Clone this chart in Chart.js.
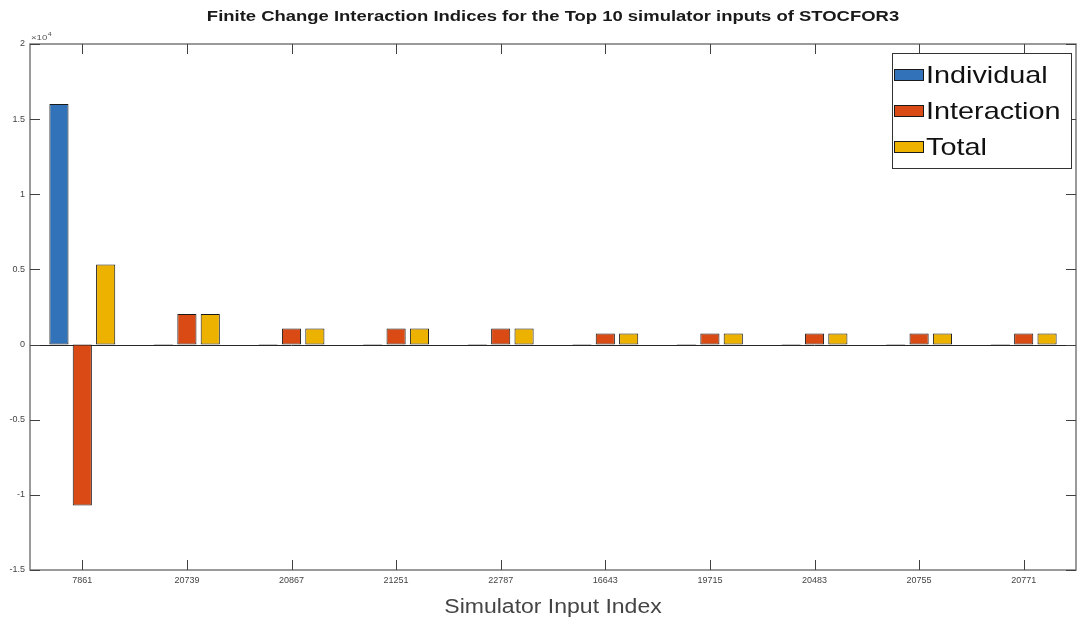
<!DOCTYPE html>
<html>
<head>
<meta charset="utf-8">
<script src="https://cdn.jsdelivr.net/npm/chart.js@4/dist/chart.umd.min.js"></script>
<style>
  body { margin: 0; background: #fff; }
  #wrap { width: 1078px; height: 622px; }
</style>
</head>
<body>
<div id="wrap"><canvas id="fci"></canvas></div>
<script>
// Simulator inputs (categories)
var inputs = ['7861', '20739', '20867', '21251', '22787', '16643', '19715', '20483', '20755', '20771'];

// Series values
var individual  = [16000, 30, 30, 30, 30, 30, 30, 30, 30, 30];
var interaction = [-10700, 2030, 1070, 1070, 1070, 730, 730, 730, 730, 730];
var total       = [5330, 2030, 1070, 1070, 1070, 730, 730, 730, 730, 730];

// Y tick values (x 10^4)
var yTicks = [-15000, -10000, -5000, 0, 5000, 10000, 15000, 20000];

var FONT = '"Liberation Sans", Arial, Helvetica, sans-serif';

// the original picture has its text a bit wider than normal, so stretch it
function wideText(ctx, txt, x, y, font, sx, align) {
  ctx.save();
  ctx.font = font;
  var w = ctx.measureText(txt).width * sx;
  var left = x;
  if (align === 'center') left = x - w / 2;
  ctx.translate(left, y);
  ctx.scale(sx, 1);
  ctx.textAlign = 'left';
  ctx.fillText(txt, 0, 0);
  ctx.restore();
  return w;
}

// MATLAB style box, inward ticks, titles and legend
var matlabLook = {
  id: 'matlabLook',
  beforeDatasetsDraw: function(chart) {
    var ctx = chart.ctx, a = chart.chartArea, y = chart.scales.y;
    var y0 = y.getPixelForValue(0);
    ctx.save();
    ctx.strokeStyle = '#262626';
    ctx.lineWidth = 1;
    ctx.beginPath();
    ctx.moveTo(a.left, Math.round(y0) + 0.5);
    ctx.lineTo(a.right, Math.round(y0) + 0.5);
    ctx.stroke();
    ctx.restore();
  },
  afterDraw: function(chart) {
    var ctx = chart.ctx, a = chart.chartArea;
    var xs = chart.scales.x, ys = chart.scales.y;
    ctx.save();

    // axes box
    ctx.strokeStyle = '#7a7a7a';
    ctx.lineWidth = 1.5;
    ctx.strokeRect(a.left, a.top, a.right - a.left, a.bottom - a.top);

    // inward ticks
    ctx.strokeStyle = '#404040';
    ctx.lineWidth = 1;
    ctx.beginPath();
    for (var i = 0; i < inputs.length; i++) {
      var px = Math.round(xs.getPixelForValue(i)) + 0.5;
      ctx.moveTo(px, a.bottom); ctx.lineTo(px, a.bottom - 10);
      ctx.moveTo(px, a.top); ctx.lineTo(px, a.top + 10);
    }
    for (var j = 0; j < yTicks.length; j++) {
      var py = Math.round(ys.getPixelForValue(yTicks[j])) + 0.5;
      ctx.moveTo(a.left, py); ctx.lineTo(a.left + 10, py);
      ctx.moveTo(a.right, py); ctx.lineTo(a.right - 10, py);
    }
    ctx.stroke();

    // exponent label
    ctx.fillStyle = '#555';
    ctx.textBaseline = 'alphabetic';
    var ew = wideText(ctx, '\u00d710', a.left + 1, a.top - 4, '8px ' + FONT, 1.2, 'left');
    wideText(ctx, '4', a.left + 1 + ew + 0.5, a.top - 8, '6px ' + FONT, 1.2, 'left');

    // title
    ctx.fillStyle = '#1a1a1a';
    ctx.textBaseline = 'middle';
    wideText(ctx, 'Finite Change Interaction Indices for the Top 10 simulator inputs of STOCFOR3',
      (a.left + a.right) / 2, 17, 'bold 15px ' + FONT, 1.23, 'center');

    // x axis title
    ctx.fillStyle = '#444';
    wideText(ctx, 'Simulator Input Index', (a.left + a.right) / 2, 607, '20px ' + FONT, 1.15, 'center');

    // legend
    var lx = 892, ly = 53, lw = 179, lh = 115;
    ctx.fillStyle = '#fff';
    ctx.fillRect(lx, ly, lw, lh);
    ctx.strokeStyle = '#333';
    ctx.lineWidth = 1;
    ctx.strokeRect(lx + 0.5, ly + 0.5, lw, lh);
    chart.data.datasets.forEach(function(ds, k) {
      var cy = 75 + k * 36;
      ctx.fillStyle = ds.backgroundColor;
      ctx.fillRect(894, cy - 6, 30, 12);
      ctx.strokeStyle = '#1a1a1a';
      ctx.strokeRect(894.5, cy - 5.5, 29, 11);
      ctx.fillStyle = '#111';
      ctx.textBaseline = 'middle';
      wideText(ctx, ds.label, 926, cy + 1, '24px ' + FONT, 1.2, 'left');
    });
    ctx.restore();
  }
};

new Chart(document.getElementById('fci'), {
  type: 'bar',
  data: {
    labels: inputs,
    datasets: [
      { label: 'Individual', data: individual, backgroundColor: '#3272B9' },
      { label: 'Interaction', data: interaction, backgroundColor: '#D94A14' },
      { label: 'Total', data: total, backgroundColor: '#EDB100' }
    ]
  },
  options: {
    responsive: true,
    maintainAspectRatio: false,
    animation: false,
    layout: { padding: { top: 44, right: 2, left: 0, bottom: 0 } },
    datasets: {
      bar: {
        categoryPercentage: 0.67,
        barPercentage: 0.82,
        borderColor: '#1a1a1a',
        borderWidth: 1,
        borderSkipped: false
      }
    },
    plugins: {
      legend: { display: false },
      title: { display: false },
      tooltip: { enabled: false }
    },
    scales: {
      x: {
        grid: { display: false, drawTicks: false },
        border: { display: false },
        ticks: {
          autoSkip: false, maxRotation: 0, padding: 5,
          color: '#444', font: { family: FONT, size: 9 }
        },
        afterFit: function(s) { s.height = 52; }
      },
      y: {
        min: -15000, max: 20000,
        grid: { display: false, drawTicks: false },
        border: { display: false },
        ticks: {
          stepSize: 5000, padding: 5,
          color: '#444', font: { family: FONT, size: 9 },
          callback: function(v) { return String(v / 10000); }
        },
        afterFit: function(s) { s.width = 30; }
      }
    }
  },
  plugins: [matlabLook]
});
</script>
</body>
</html>
